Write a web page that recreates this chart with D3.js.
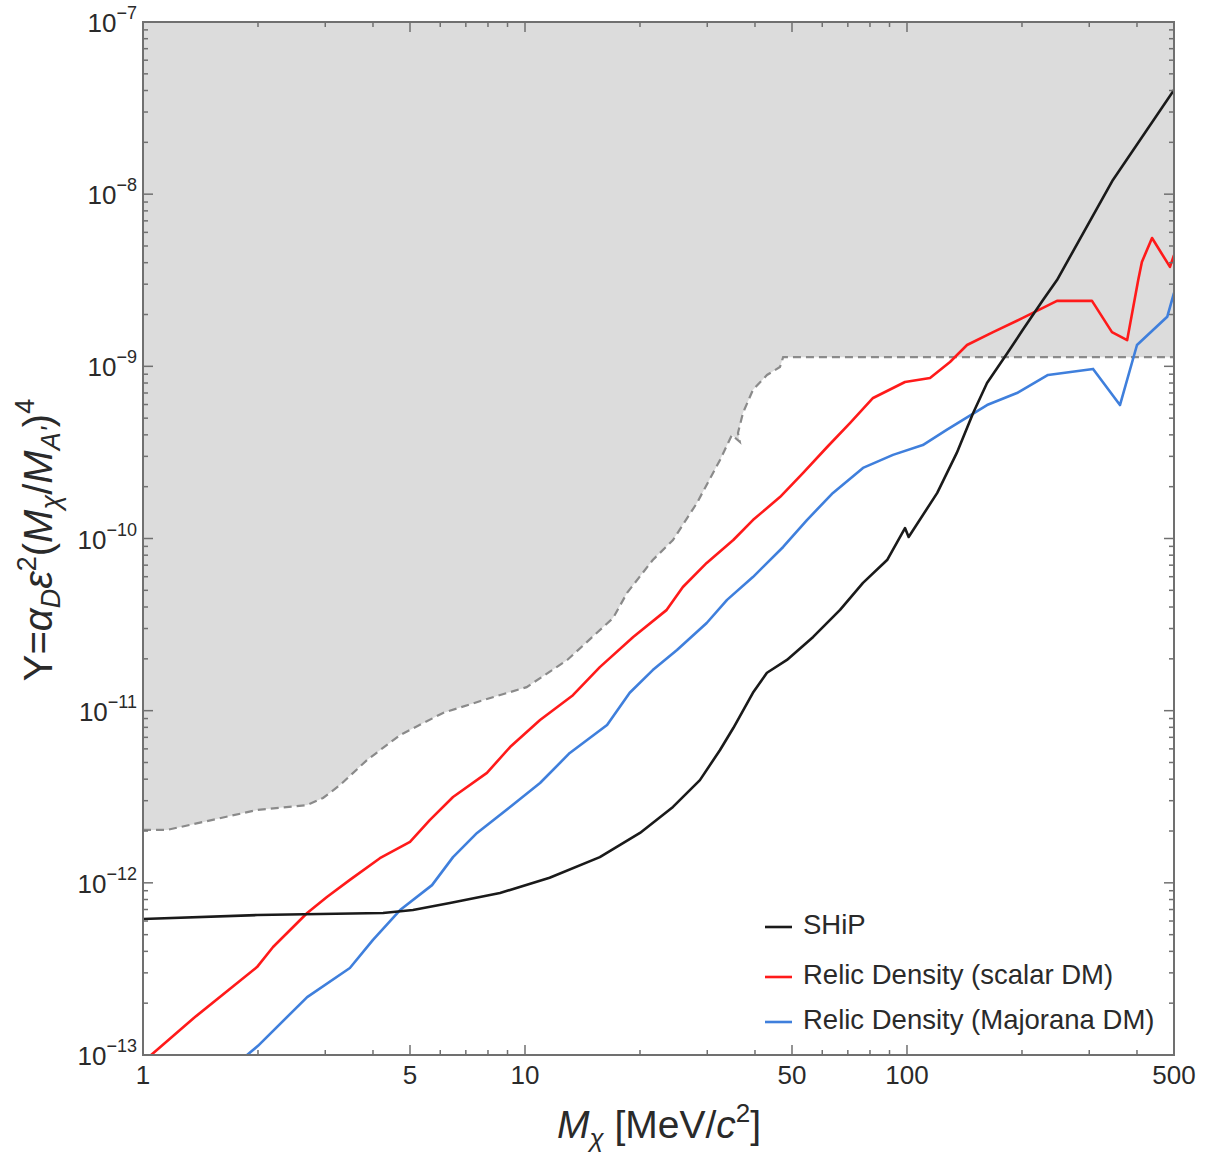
<!DOCTYPE html>
<html><head><meta charset="utf-8">
<script src="https://cdn.jsdelivr.net/npm/d3@7"></script>
<style>body{margin:0;background:#fff;} text{font-family:"Liberation Sans",Arial,sans-serif;}</style>
</head><body><svg id="c" width="1205" height="1154"></svg>
<script>
// ---- data ----
const shipX = [1,1.99,4.25,5.09,6.36,8.6,11.6,15.7,20,24.4,28.7,32.4,35.1,39.5,43,48.5,56.8,66.8,76.7,88.7,98.8,101,120,135,149,162,183,201,227,247,346,500];
const shipY = [6.17e-13,6.5e-13,6.68e-13,6.95e-13,7.64e-13,8.73e-13,1.07e-12,1.41e-12,1.95e-12,2.76e-12,3.95e-12,5.91e-12,7.93e-12,1.27e-11,1.66e-11,1.97e-11,2.68e-11,3.85e-11,5.52e-11,7.5e-11,1.15e-10,1.02e-10,1.84e-10,3.14e-10,5.36e-10,8.0e-10,1.19e-9,1.63e-9,2.43e-9,3.17e-9,1.21e-8,4.03e-8];

const scalarX = [1.0,1.05,1.368,1.988,2.19,2.69,3.03,3.48,4.17,5.0,5.64,6.48,7.95,9.14,10.95,13.35,15.7,19.2,23.5,25.9,29.9,35.1,39.5,46.5,53.4,61.8,71.0,81.5,98.8,114.9,129.6,143.6,168,201,247,305,344,377,403,412,438,488,500];
const scalarY = [0.93e-13,1.0e-13,1.66e-13,3.24e-13,4.24e-13,6.68e-13,8.28e-13,1.04e-12,1.39e-12,1.73e-12,2.32e-12,3.15e-12,4.35e-12,6.15e-12,8.83e-12,1.23e-11,1.79e-11,2.68e-11,3.85e-11,5.23e-11,7.21e-11,9.8e-11,1.28e-10,1.74e-10,2.4e-10,3.4e-10,4.69e-10,6.55e-10,8.11e-10,8.55e-10,1.06e-9,1.33e-9,1.58e-9,1.91e-9,2.4e-9,2.4e-9,1.58e-9,1.42e-9,3.17e-9,4.04e-9,5.56e-9,3.78e-9,4.43e-9];

const majoranaX = [1.85,1.872,2.0,2.69,3.48,4.0,4.71,5.71,6.48,7.49,9.14,10.95,13.1,16.4,18.8,21.6,25.0,29.9,33.8,39.5,47.4,54.7,64.0,76.7,91.9,110,127,162,194,234,307,361,400,480,500];
const majoranaY = [0.97e-13,1.0e-13,1.13e-13,2.17e-13,3.2e-13,4.66e-13,6.95e-13,9.7e-13,1.41e-12,1.95e-12,2.76e-12,3.8e-12,5.68e-12,8.26e-12,1.27e-11,1.72e-11,2.25e-11,3.23e-11,4.4e-11,5.97e-11,8.93e-11,1.28e-10,1.84e-10,2.57e-10,3.06e-10,3.49e-10,4.27e-10,5.96e-10,7.0e-10,8.91e-10,9.66e-10,5.96e-10,1.33e-9,1.94e-9,2.67e-9];

const excludedX = [1,1.156,1.327,1.988,2.69,2.96,3.28,3.86,4.71,6.10,7.76,10.1,12.9,17.0,18.5,21.6,24.4,28.2,32.4,34.8,36.5,36.1,37.2,39.5,43.0,46.5,47.4,500];
const excludedY = [2.03e-12,2.03e-12,2.17e-12,2.65e-12,2.83e-12,3.11e-12,3.7e-12,5.17e-12,7.22e-12,9.7e-12,1.15e-11,1.37e-11,1.97e-11,3.45e-11,4.83e-11,7.5e-11,9.8e-11,1.61e-10,2.86e-10,3.99e-10,3.64e-10,4.1e-10,5.36e-10,7.29e-10,8.91e-10,9.91e-10,1.13e-9,1.13e-9];

const xTickLabels = [1,5,10,50,100,500];
const yTickExps = [-7,-8,-9,-10,-11,-12,-13];
const legendLabels = ["SHiP","Relic Density (scalar DM)","Relic Density (Majorana DM)"];
const seriesColors = ["#1a1a1a","#ff1a1a","#3f7fdc"];

// ---- layout ----
const L=143, R=1174, T=22, B=1055;
const txtCol="#2a2a2a";
const svg=d3.select("#c");
const x=d3.scaleLog().domain([1,500]).range([L,R]);
const y=d3.scaleLog().domain([1e-13,1e-7]).range([B,T]);

svg.append("defs").append("clipPath").attr("id","clip").append("rect")
  .attr("x",L).attr("y",T).attr("width",R-L).attr("height",B-T);
const g=svg.append("g").attr("clip-path","url(#clip)");

// excluded region
const excl = excludedX.map((v,i)=>[v,excludedY[i]]);
const poly = excl.concat([[500,1e-7],[1,1e-7]]);
g.append("path").attr("d",d3.line().x(d=>x(d[0])).y(d=>y(d[1]))(poly)+"Z")
  .attr("fill","#dcdcdc").attr("stroke","none");
g.append("path").attr("d",d3.line().x(d=>x(d[0])).y(d=>y(d[1]))(excl))
  .attr("fill","none").attr("stroke","#8a8a8a").attr("stroke-width",2.2).attr("stroke-dasharray","8,5");

// curves
const series=[[shipX,shipY],[scalarX,scalarY],[majoranaX,majoranaY]];
const line=d3.line().x(d=>x(d[0])).y(d=>y(d[1]));
[2,1,0].forEach(i=>{
  const pts=series[i][0].map((v,j)=>[v,series[i][1][j]]);
  g.append("path").attr("d",line(pts)).attr("fill","none")
   .attr("stroke",seriesColors[i]).attr("stroke-width",2.6).attr("stroke-linejoin","round");
});

// frame
const axCol="#707070";
svg.append("rect").attr("x",L).attr("y",T).attr("width",R-L).attr("height",B-T)
  .attr("fill","none").attr("stroke",axCol).attr("stroke-width",2);

// ticks (inward, mirrored)
const xMinor=[];
[1,10,100].forEach(d=>{for(let k=2;k<=9;k++){const v=d*k; if(v<500 && !xTickLabels.includes(v)) xMinor.push(v);}});
const tg=svg.append("g").attr("stroke",axCol).attr("stroke-width",1.5);
xTickLabels.forEach(v=>{
  tg.append("line").attr("x1",x(v)).attr("x2",x(v)).attr("y1",B).attr("y2",B-10);
  tg.append("line").attr("x1",x(v)).attr("x2",x(v)).attr("y1",T).attr("y2",T+10);
});
xMinor.forEach(v=>{
  tg.append("line").attr("x1",x(v)).attr("x2",x(v)).attr("y1",B).attr("y2",B-5);
  tg.append("line").attr("x1",x(v)).attr("x2",x(v)).attr("y1",T).attr("y2",T+5);
});
yTickExps.forEach(e=>{
  const v=Math.pow(10,e);
  tg.append("line").attr("x1",L).attr("x2",L+10).attr("y1",y(v)).attr("y2",y(v));
  tg.append("line").attr("x1",R).attr("x2",R-10).attr("y1",y(v)).attr("y2",y(v));
  if(e<-7){for(let k=2;k<=9;k++){const m=k*v;
    tg.append("line").attr("x1",L).attr("x2",L+5).attr("y1",y(m)).attr("y2",y(m));
    tg.append("line").attr("x1",R).attr("x2",R-5).attr("y1",y(m)).attr("y2",y(m));}}
});

// x tick labels
xTickLabels.forEach(v=>{
  svg.append("text").attr("x",x(v)).attr("y",B+29).attr("text-anchor","middle")
    .attr("font-size",26).attr("fill",txtCol).text(v);
});
// y tick labels
yTickExps.forEach(e=>{
  const t=svg.append("text").attr("x",L-6).attr("y",y(Math.pow(10,e))+10).attr("text-anchor","end")
    .attr("font-size",26).attr("fill",txtCol);
  t.append("tspan").text("10");
  t.append("tspan").attr("dy",-13).attr("font-size",18).text("\u2212"+(-e));
});

// axis titles
const xt=svg.append("text").attr("x",659).attr("y",1138).attr("text-anchor","middle")
  .attr("font-size",39).attr("fill",txtCol);
xt.append("tspan").attr("font-style","italic").text("M");
xt.append("tspan").attr("font-style","italic").attr("font-size",26).attr("dy",9).text("\u03c7");
xt.append("tspan").attr("dy",-9).text(" [MeV/");
xt.append("tspan").attr("font-style","italic").text("c");
xt.append("tspan").attr("font-size",26).attr("dy",-16).text("2");
xt.append("tspan").attr("dy",16).text("]");

const yt=svg.append("text").attr("transform","translate(52,540) rotate(-90)").attr("text-anchor","middle")
  .attr("font-size",40).attr("fill",txtCol);
yt.append("tspan").text("Y=");
yt.append("tspan").attr("font-style","italic").text("\u03b1");
yt.append("tspan").attr("font-style","italic").attr("font-size",27).attr("dy",8).text("D");
yt.append("tspan").attr("font-style","italic").attr("dy",-8).text("\u03b5");
yt.append("tspan").attr("font-size",27).attr("dy",-16).text("2");
yt.append("tspan").attr("dy",16).text("(");
yt.append("tspan").attr("font-style","italic").text("M");
yt.append("tspan").attr("font-style","italic").attr("font-size",27).attr("dy",8).text("\u03c7");
yt.append("tspan").attr("dy",-8).text("/");
yt.append("tspan").attr("font-style","italic").text("M");
yt.append("tspan").attr("font-style","italic").attr("font-size",27).attr("dy",8).text("A'");
yt.append("tspan").attr("dy",-8).text(")");
yt.append("tspan").attr("font-size",27).attr("dy",-18).text("4");

// legend
const legY=[934,984,1029];
legendLabels.forEach((lab,i)=>{
  svg.append("line").attr("x1",765).attr("x2",792).attr("y1",legY[i]-7).attr("y2",legY[i]-7)
    .attr("stroke",seriesColors[i]).attr("stroke-width",2.6);
  svg.append("text").attr("x",803).attr("y",legY[i]).attr("font-size",27.5).attr("fill",txtCol).text(lab);
});
</script></body></html>
